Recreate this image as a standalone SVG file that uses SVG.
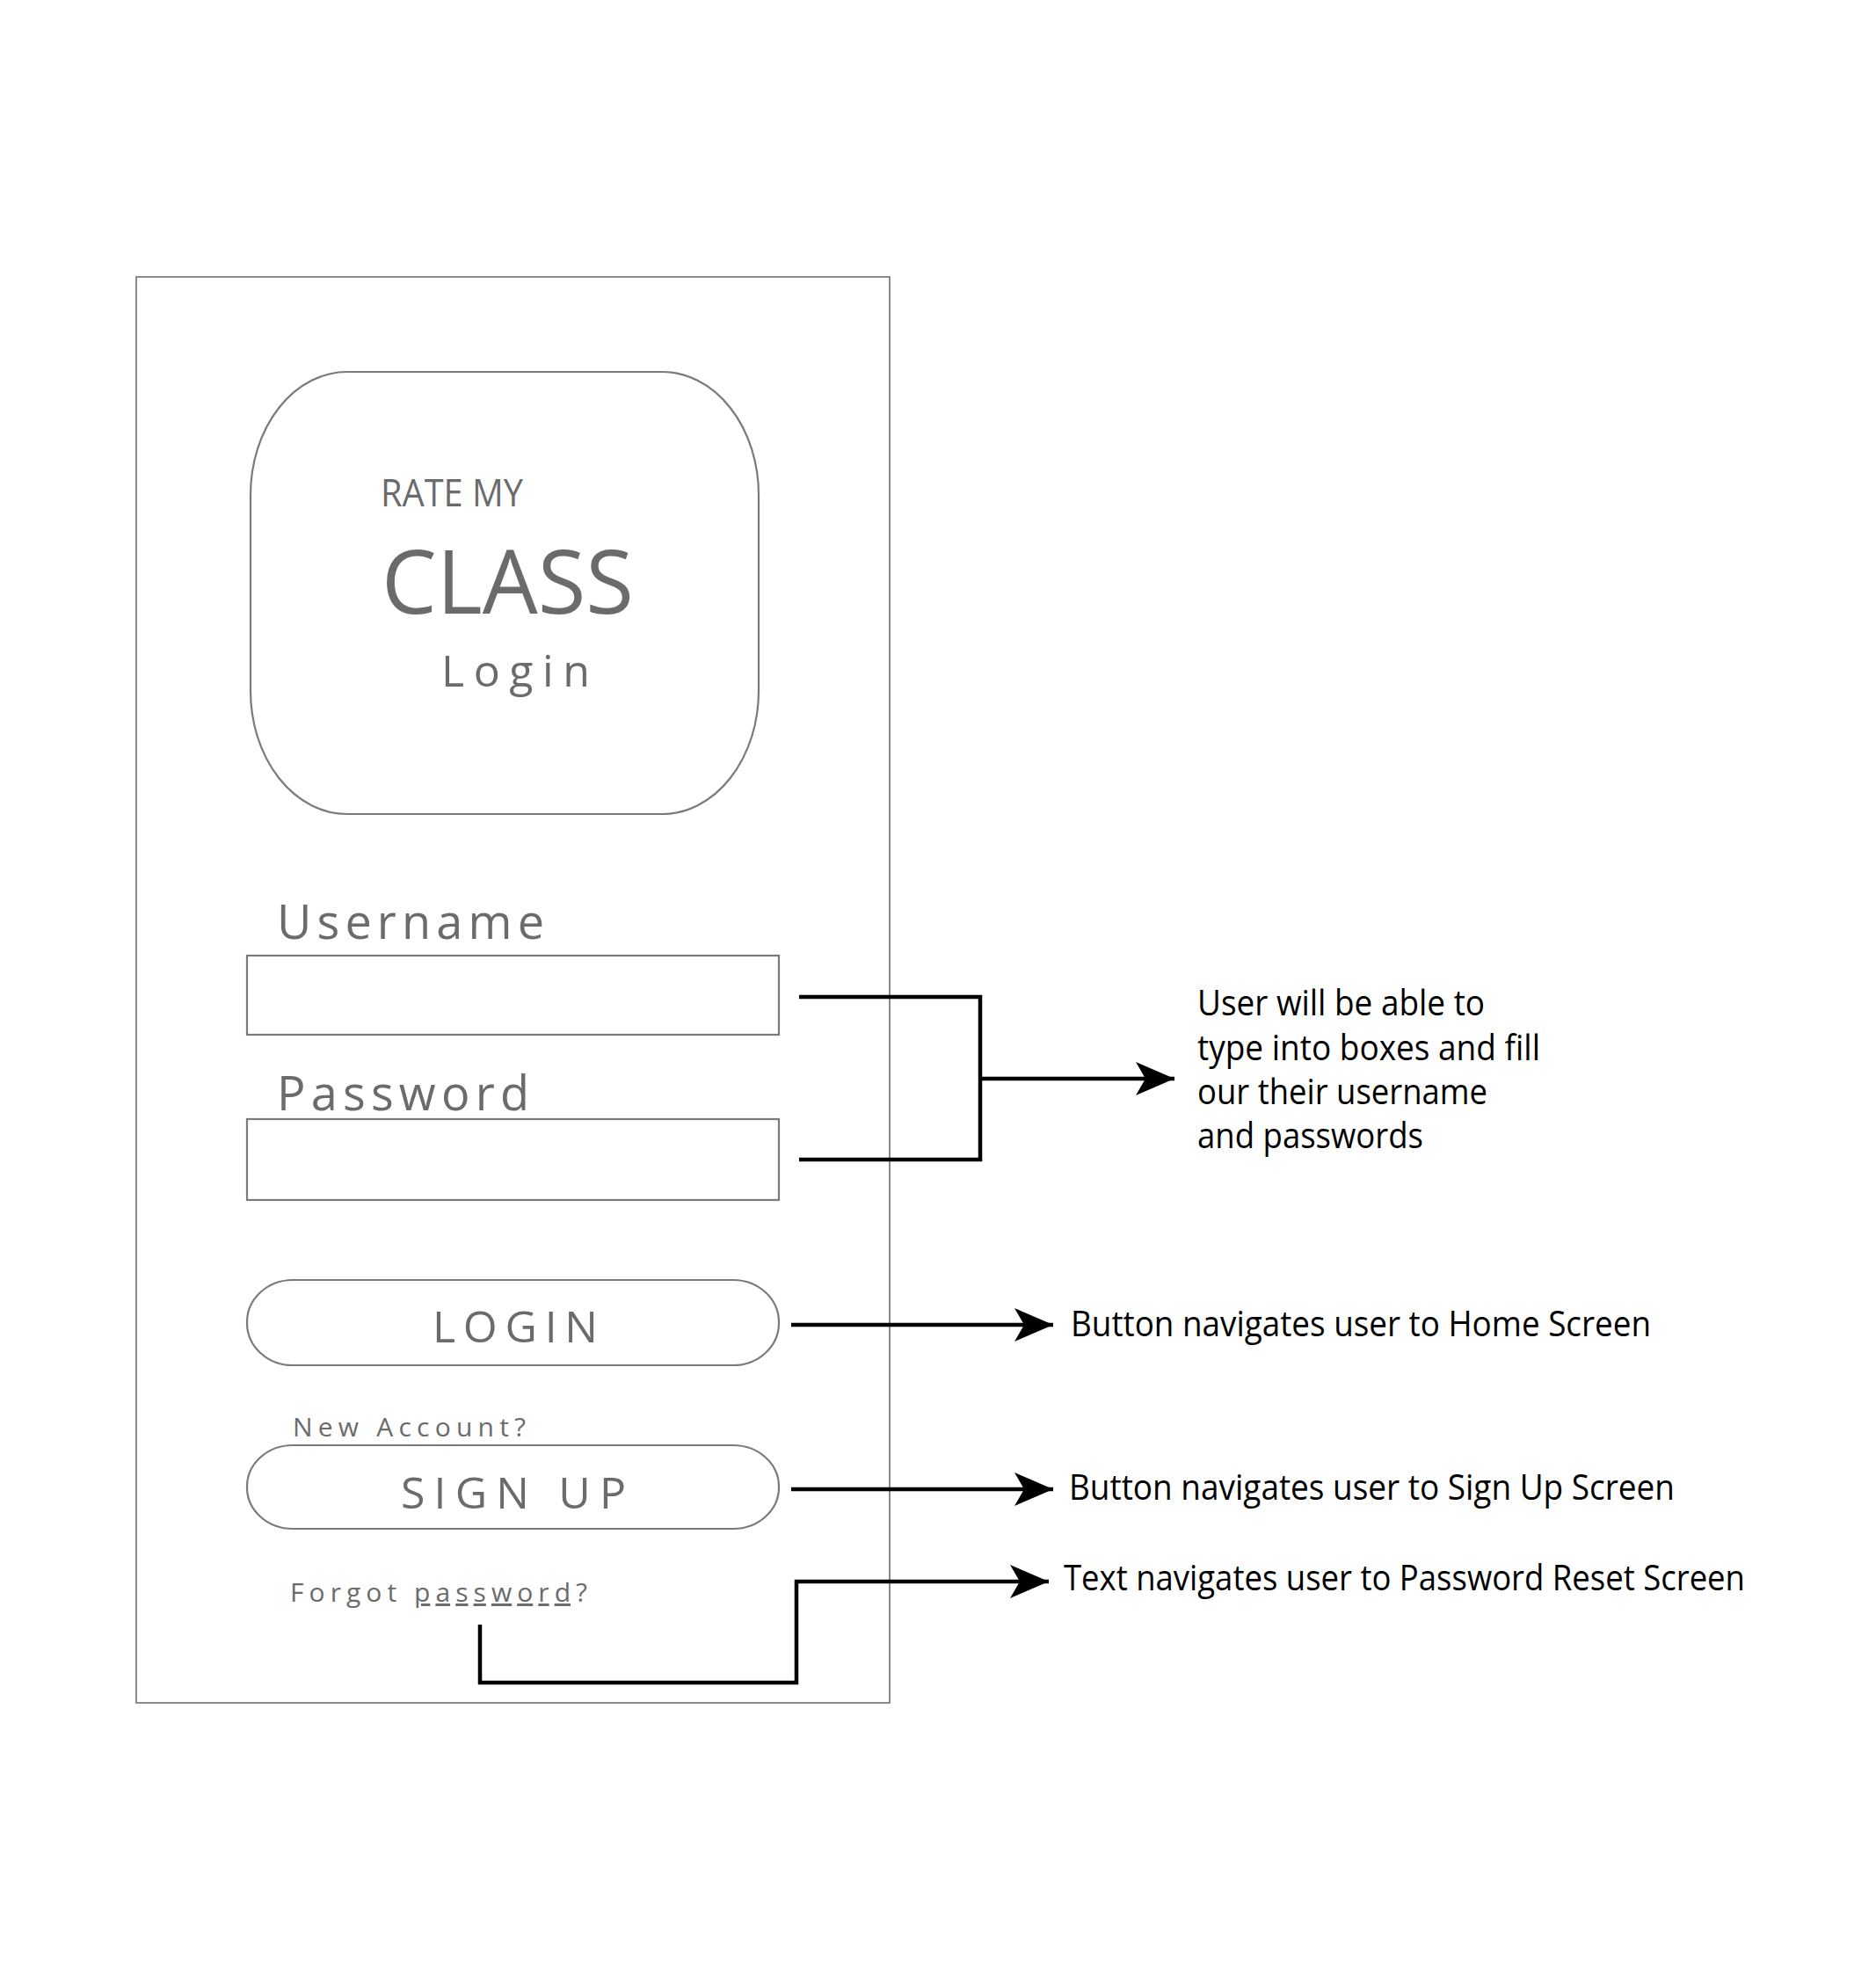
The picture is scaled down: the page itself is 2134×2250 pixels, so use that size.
<svg xmlns="http://www.w3.org/2000/svg" width="2134" height="2250" viewBox="0 0 2134 2250">
<defs>
<style>
.frame{fill:none;stroke:#6e6e6e;stroke-width:1.6}
.box{fill:#fff;stroke:#7a7a7a;stroke-width:2.2}
.ui{font-family:"Open Sans","Noto Sans",sans-serif;fill:#6b6b6b}
.note{font-family:"Open Sans","Noto Sans",sans-serif;fill:#000;font-size:40px}
.conn{fill:none;stroke:#000;stroke-width:4.5}
</style>
<marker id="arr" viewBox="0 0 44 38" refX="44" refY="19" markerWidth="44" markerHeight="38" markerUnits="userSpaceOnUse" orient="auto">
<path d="M0,0 L44,19 L0,38 L11,19 Z" fill="#000"/>
</marker>
</defs>
<rect width="2134" height="2250" fill="#fff"/>
<g id="screen">
<rect class="frame" x="155" y="315" width="857" height="1622"/>
</g>
<g id="logo">
<rect class="box" x="285" y="423" width="578" height="503" rx="110" ry="140"/>
<text class="ui" x="433" y="576" font-size="44" textLength="162" lengthAdjust="spacingAndGlyphs">RATE MY</text>
<text class="ui" x="434" y="698" font-size="100" textLength="287" lengthAdjust="spacingAndGlyphs">CLASS</text>
<text class="ui" x="502" y="781" font-size="50" textLength="169" lengthAdjust="spacing">Login</text>
</g>
<g id="username">
<text class="ui" x="315" y="1068" font-size="54" textLength="304" lengthAdjust="spacing">Username</text>
<rect class="box" x="281" y="1087" width="605" height="90"/>
</g>
<g id="password">
<text class="ui" x="315" y="1263" font-size="54" textLength="287" lengthAdjust="spacing">Password</text>
<rect class="box" x="281" y="1273" width="605" height="92"/>
</g>
<g id="login-button">
<rect class="box" x="281" y="1456" width="605" height="97" rx="52" ry="48"/>
<text class="ui" x="492" y="1527" font-size="50" textLength="188" lengthAdjust="spacing">LOGIN</text>
</g>
<g id="new-account">
<text class="ui" x="333" y="1634" font-size="30" textLength="265" lengthAdjust="spacing">New Account?</text>
</g>
<g id="signup-button">
<rect class="box" x="281" y="1644" width="605" height="95" rx="52" ry="47"/>
<text class="ui" x="456" y="1716" font-size="50" textLength="256" lengthAdjust="spacing">SIGN UP</text>
</g>
<g id="forgot">
<text class="ui" x="330" y="1822" font-size="30" textLength="338" lengthAdjust="spacing">Forgot <tspan text-decoration="underline">password</tspan>?</text>
</g>
<g id="connectors">
<polyline class="conn" points="909,1134 1115,1134 1115,1319 909,1319"/>
<line class="conn" x1="1115" y1="1227" x2="1336" y2="1227" marker-end="url(#arr)"/>
<line class="conn" x1="900" y1="1507" x2="1198" y2="1507" marker-end="url(#arr)"/>
<line class="conn" x1="900" y1="1694" x2="1198" y2="1694" marker-end="url(#arr)"/>
<polyline class="conn" points="546,1848 546,1914 906,1914 906,1799 1193,1799" marker-end="url(#arr)"/>
</g>
<g id="notes">
<text class="note" x="1362" y="1155" textLength="327" lengthAdjust="spacingAndGlyphs">User will be able to</text>
<text class="note" x="1362" y="1206" textLength="390" lengthAdjust="spacingAndGlyphs">type into boxes and fill</text>
<text class="note" x="1362" y="1256" textLength="330" lengthAdjust="spacingAndGlyphs">our their username</text>
<text class="note" x="1362" y="1306" textLength="257" lengthAdjust="spacingAndGlyphs">and passwords</text>
<text class="note" x="1218" y="1520" textLength="660" lengthAdjust="spacingAndGlyphs">Button navigates user to Home Screen</text>
<text class="note" x="1216" y="1706" textLength="689" lengthAdjust="spacingAndGlyphs">Button navigates user to Sign Up Screen</text>
<text class="note" x="1210" y="1809" textLength="775" lengthAdjust="spacingAndGlyphs">Text navigates user to Password Reset Screen</text>
</g>
</svg>
